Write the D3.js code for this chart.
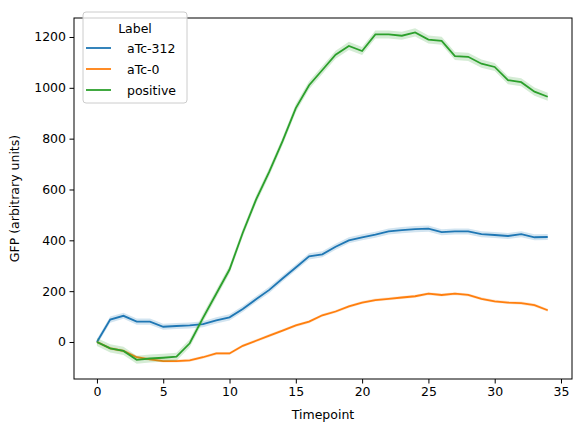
<!DOCTYPE html>
<html><head><meta charset="utf-8">
<script src="https://cdn.jsdelivr.net/npm/d3@7"></script>
<style>body{margin:0;background:#fff}text{font-family:"DejaVu Sans",sans-serif}</style>
</head><body><svg id="c" width="580" height="432"></svg>
<script>
const timepoints = d3.range(0, 35);
const atc312 = [0,88,103,80,80,60,63,65,70,85,97,130,168,205,250,293,337,345,375,400,412,422,435,440,444,446,432,435,435,424,421,417,424,412,413];
const atc0 = [0,-25,-35,-60,-68,-75,-75,-72,-60,-45,-45,-15,5,25,45,65,80,105,120,140,155,165,170,175,180,190,185,190,185,170,160,155,153,145,125];
const positive = [0,-25,-35,-70,-65,-62,-58,-5,95,190,285,430,560,670,790,920,1010,1070,1130,1165,1145,1210,1210,1205,1218,1190,1185,1125,1122,1095,1082,1030,1022,985,965];
const bandWidth = [12, 6, 16];
const labels = ['aTc-312', 'aTc-0', 'positive'];
const colors = ['#1f77b4', '#ff7f0e', '#2ca02c'];
const series = [atc312, atc0, positive];

const svg = d3.select('#c');
const L = 74, R = 572, T = 18, B = 379;
const fs = 12.5;
const x = d3.scaleLinear().domain([-1.73, 35.83]).range([L, R]);
const y = d3.scaleLinear().domain([-145.6, 1274.7]).range([B, T]);

// полосы и линии
series.forEach((s, i) => {
    const area = d3.area().x((d, j) => x(timepoints[j]))
        .y0(d => y(d - bandWidth[i])).y1(d => y(d + bandWidth[i]));
    svg.append('path').attr('d', area(s)).attr('fill', colors[i]).attr('opacity', 0.2);
    const line = d3.line().x((d, j) => x(timepoints[j])).y(d => y(d));
    svg.append('path').attr('d', line(s)).attr('fill', 'none')
        .attr('stroke', colors[i]).attr('stroke-width', 1.8);
});

svg.append('rect').attr('x', L).attr('y', T).attr('width', R - L).attr('height', B - T)
    .attr('fill', 'none').attr('stroke', '#000').attr('stroke-width', 1);

const xa = svg.append('g').attr('transform', `translate(0,${B})`)
    .call(d3.axisBottom(x).tickValues(d3.range(0, 36, 5)).tickFormat(d3.format('d')).tickSize(4.5).tickPadding(3.5));
const ya = svg.append('g').attr('transform', `translate(${L},0)`)
    .call(d3.axisLeft(y).tickValues(d3.range(0, 1201, 200)).tickFormat(d3.format('d')).tickSize(4.5).tickPadding(3.5));
[xa, ya].forEach(a => {
    a.select('.domain').remove();
    a.selectAll('text').attr('font-size', fs).attr('fill', '#000').attr('font-family', '"DejaVu Sans",sans-serif');
    a.selectAll('line').attr('stroke', '#000').attr('stroke-width', 1);
});

svg.append('text').attr('x', (L + R) / 2).attr('y', 419).attr('text-anchor', 'middle')
    .attr('font-size', fs).text('Timepoint');
svg.append('text').attr('transform', `translate(19,${(T + B) / 2}) rotate(-90)`)
    .attr('text-anchor', 'middle').attr('font-size', fs).text('GFP (arbitrary units)');

// легенда
const lg = svg.append('g').attr('transform', 'translate(83,12)');
lg.append('rect').attr('width', 104).attr('height', 91).attr('rx', 3)
    .attr('fill', '#fff').attr('fill-opacity', 0.8).attr('stroke', '#ccc');
lg.append('text').attr('x', 52).attr('y', 21).attr('text-anchor', 'middle').attr('font-size', fs).text('Label');
labels.forEach((l, i) => {
    const yy = 36 + i * 21;
    lg.append('line').attr('x1', 3).attr('x2', 28).attr('y1', yy).attr('y2', yy)
        .attr('stroke', colors[i]).attr('stroke-width', 1.8);
    lg.append('text').attr('x', 44).attr('y', yy + 4.5).attr('font-size', fs).text(l);
});
</script></body></html>
